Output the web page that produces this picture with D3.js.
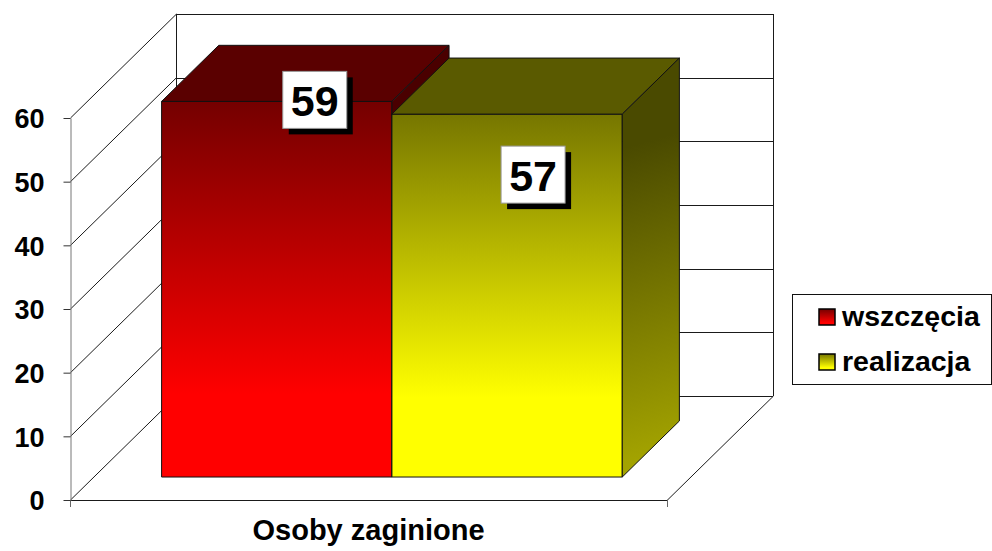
<!DOCTYPE html>
<html>
<head>
<meta charset="utf-8">
<script src="https://cdn.jsdelivr.net/npm/d3@7"></script>
<style>
    body { margin: 0; background: #fff; }
    svg { display: block; font-family: Arial, "Liberation Sans", sans-serif; }
</style>
</head>
<body>
<div id="chart"></div>
<script>
// data
const categories = ["Osoby zaginione"];
const seriesNames = ["wszczęcia", "realizacja"];
const seriesValues = [59, 57];
const yTicks = [0, 10, 20, 30, 40, 50, 60];

const width = 992, height = 551;

// 3d frame: front floor edge, depth offset of the back wall
const depthX = 106, depthY = -104;
const barD0 = 0.221, barD1 = 0.76;   // bar depth range as fraction of full depth

const svg = d3.select("#chart").append("svg")
    .attr("width", width)
    .attr("height", height);

const y = d3.scaleLinear().domain([0, 60]).range([500, 118]);
const x0 = d3.scaleBand().domain(categories).range([70, 667]).paddingInner(0).paddingOuter(0.148);
const x1 = d3.scaleBand().domain(seriesNames).range([0, x0.bandwidth()]);

const colors = {
    "wszczęcia": { front: ["#740000", "#ff0000"], top: "#5a0000", side: ["#4a0000", "#8a0000"] },
    "realizacja": { front: ["#767600", "#ffff00"], top: "#5a5a00", side: ["#4a4a00", "#a3a300"] }
};

const defs = svg.append("defs");
seriesNames.forEach((s, i) => {
    const c = colors[s];
    const fg = defs.append("linearGradient").attr("id", "front" + i)
        .attr("x1", 0).attr("y1", 0).attr("x2", 0).attr("y2", 1);
    fg.append("stop").attr("offset", "0%").attr("stop-color", c.front[0]);
    fg.append("stop").attr("offset", "78%").attr("stop-color", c.front[1]);
    fg.append("stop").attr("offset", "100%").attr("stop-color", c.front[1]);

    // side face: dark at the top, lighter toward the bottom
    const sg = defs.append("linearGradient").attr("id", "side" + i)
        .attr("gradientUnits", "userSpaceOnUse");
    sg.append("stop").attr("offset", "0%").attr("stop-color", c.side[0]);
    sg.append("stop").attr("offset", "20%").attr("stop-color", c.side[0]);
    sg.append("stop").attr("offset", "90%").attr("stop-color", c.side[1]);
    sg.append("stop").attr("offset", "100%").attr("stop-color", c.side[1]);

    const lg = defs.append("linearGradient").attr("id", "leg" + i)
        .attr("x1", 0).attr("y1", 0).attr("x2", 0).attr("y2", 1);
    lg.append("stop").attr("offset", "0%").attr("stop-color", c.front[0]);
    lg.append("stop").attr("offset", "85%").attr("stop-color", c.front[1]);
});

const pt = (px, py) => px + "," + py;

// walls and grid
const grid = svg.append("g").attr("class", "grid")
    .attr("fill", "none")
    .attr("stroke", "#1a1a1a")
    .attr("stroke-width", 1);

const backLeft = 70 + depthX, backRight = 667 + depthX;

// back wall horizontal gridlines
grid.selectAll("line.back")
    .data(yTicks)
    .join("line")
    .attr("class", "back")
    .attr("x1", backLeft).attr("x2", backRight)
    .attr("y1", d => Math.round(y(d) + depthY) + 0.5)
    .attr("y2", d => Math.round(y(d) + depthY) + 0.5);

// left wall diagonals
grid.selectAll("line.side")
    .data(yTicks)
    .join("line")
    .attr("class", "side")
    .attr("x1", 70.5).attr("y1", d => y(d))
    .attr("x2", backLeft + 0.5).attr("y2", d => y(d) + depthY);

// back wall verticals
grid.append("line")
    .attr("x1", backLeft + 0.5).attr("x2", backLeft + 0.5)
    .attr("y1", y(60) + depthY).attr("y2", y(0) + depthY);
grid.append("line")
    .attr("x1", backRight + 0.5).attr("x2", backRight + 0.5)
    .attr("y1", y(60) + depthY).attr("y2", y(0) + depthY);

// floor
grid.append("polyline")
    .attr("points", [pt(70, y(0) + 0.5), pt(667, y(0) + 0.5), pt(backRight + 0.5, y(0) + depthY)].join(" "));

// category ticks below floor
grid.selectAll("line.cat")
    .data([70, 667])
    .join("line")
    .attr("class", "cat")
    .attr("x1", d => d + 0.5).attr("x2", d => d + 0.5)
    .attr("y1", y(0)).attr("y2", y(0) + 7)
    .attr("stroke", "#666");

// y axis
const yAxis = svg.append("g")
    .attr("transform", "translate(70.5,0)")
    .call(d3.axisLeft(y).tickValues(yTicks).tickSize(7).tickPadding(19).tickSizeOuter(0));
yAxis.select(".domain").attr("stroke", "#777");
yAxis.selectAll(".tick line").attr("stroke", "#333");
yAxis.selectAll(".tick text")
    .attr("fill", "#000")
    .style("font-size", "27px")
    .style("font-weight", "bold")
    .attr("dy", "0.36em");

// bars
const d0x = depthX * barD0, d0y = depthY * barD0;
const d1x = depthX * barD1, d1y = depthY * barD1;

const bars = svg.append("g").attr("class", "bars")
    .attr("stroke", "#111")
    .attr("stroke-width", 1)
    .attr("stroke-linejoin", "round");

seriesNames.forEach((s, i) => {
    const left = x0(categories[0]) + x1(s) + d0x;
    const right = left + x1.bandwidth();
    const top = y(seriesValues[i]) + d0y;
    const bottom = y(0) + d0y;
    const ddx = d1x - d0x, ddy = d1y - d0y;
    const g = bars.append("g");

    defs.select("#side" + i)
        .attr("x1", right).attr("y1", top + ddy)
        .attr("x2", right + ddx + 60).attr("y2", bottom);

    g.append("rect")
        .attr("x", left).attr("y", top)
        .attr("width", right - left).attr("height", bottom - top)
        .attr("fill", `url(#front${i})`);

    g.append("polygon")
        .attr("points", [pt(left, top), pt(left + ddx, top + ddy), pt(right + ddx, top + ddy), pt(right, top)].join(" "))
        .attr("fill", colors[s].top);

    g.append("polygon")
        .attr("points", [pt(right, top), pt(right + ddx, top + ddy), pt(right + ddx, bottom + ddy), pt(right, bottom)].join(" "))
        .attr("fill", `url(#side${i})`);
});

// value labels (moved by hand in the original)
const labelDx = [38, 26];
const labelDy = [-1.5, 60.5];
const labels = svg.append("g").attr("class", "labels");
seriesNames.forEach((s, i) => {
    const cx = x0(categories[0]) + x1(s) + d0x + x1.bandwidth() / 2 + labelDx[i];
    const cy = y(seriesValues[i]) + d0y + labelDy[i];
    const w = 64, h = 57;
    const g = labels.append("g").attr("transform", `translate(${cx},${cy})`);
    g.append("rect")
        .attr("x", -w / 2 + 6).attr("y", -h / 2 + 6)
        .attr("width", w).attr("height", h)
        .attr("fill", "#000");
    g.append("rect")
        .attr("x", -w / 2).attr("y", -h / 2)
        .attr("width", w).attr("height", h)
        .attr("fill", "#fff")
        .attr("stroke", "#999")
        .attr("stroke-width", 1);
    g.append("text")
        .attr("text-anchor", "middle")
        .attr("y", 16)
        .style("font-size", "43px")
        .style("font-weight", "bold")
        .text(seriesValues[i]);
});

// category label
svg.append("text")
    .attr("x", x0(categories[0]) + x0.bandwidth() / 2)
    .attr("y", 540)
    .attr("text-anchor", "middle")
    .style("font-size", "29px")
    .style("font-weight", "bold")
    .text(categories[0]);

// legend
const legend = svg.append("g").attr("transform", "translate(792,294)");
legend.append("rect")
    .attr("x", 0.5).attr("y", 0.5)
    .attr("width", 199).attr("height", 90)
    .attr("fill", "#fff")
    .attr("stroke", "#111");

const items = legend.selectAll("g.item")
    .data(seriesNames)
    .join("g")
    .attr("class", "item")
    .attr("transform", (d, i) => `translate(27,${15 + i * 45})`);

items.append("rect")
    .attr("width", 16).attr("height", 16)
    .attr("fill", (d, i) => `url(#leg${i})`)
    .attr("stroke", "#000")
    .attr("stroke-width", 1.5);

items.append("text")
    .attr("x", 23)
    .attr("y", 17)
    .style("font-size", "28.5px")
    .style("font-weight", "bold")
    .text(d => d);
</script>
</body>
</html>
